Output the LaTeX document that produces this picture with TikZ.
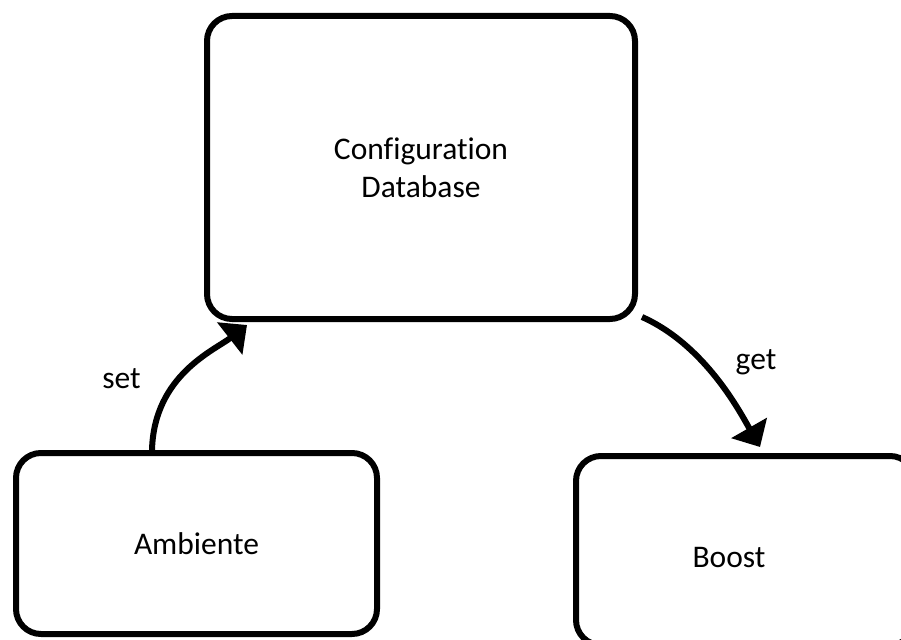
\documentclass[tikz,border=0pt]{standalone}
\usepackage{fontspec}
\setmainfont{Carlito}[Ligatures=NoCommon]
\usetikzlibrary{arrows.meta}

\tikzset{
  box/.style={draw=black, line width=6pt, rounded corners=25pt, fill=white,
              align=center, font=\fontsize{31.5}{38}\selectfont},
  lbl/.style={font=\fontsize{31.5}{38}\selectfont, anchor=base, inner sep=0pt},
  flow/.style={draw=black, line width=6pt,
               -{Triangle[length=22pt,width=40pt]}}
}

\begin{document}
\begin{tikzpicture}[x=1pt, y=-1pt]
  % page area (the Boost box runs past the right and bottom edges)
  \clip (0,0) rectangle (901,639);
  \fill[white] (0,0) rectangle (901,639);

  % boxes
  \node[box, minimum width=428pt, minimum height=303pt] (cfg) at (421,167.5)
       {Configuration\\Database};
  \node[box, minimum width=361pt, minimum height=181pt] (amb) at (196.5,543.5)
       {Ambiente};
  \node[box, minimum width=339pt, minimum height=189pt] (boost) at (745.5,550.5) {};
  \node[lbl] (boosttxt) at (729,567) {Boost};

  % connectors
  \coordinate (setA) at ([xshift=139pt]amb.north west);
  \coordinate (setB) at ([xshift=43pt,yshift=-3pt]cfg.south west);
  \draw[flow] (setA) .. controls +(2,-75) and +(-32,25) .. (setB);

  \coordinate (getA) at ([xshift=4pt,yshift=5pt]cfg.south east);
  \coordinate (getB) at ([xshift=187pt,yshift=6pt]boost.north west);
  \draw[flow] (getA) .. controls +(63,28) and +(-20,-35) .. (getB);

  % connector labels
  \node[lbl] (setlbl) at (121.5,388) {set};
  \node[lbl] (getlbl) at (756,369) {get};
\end{tikzpicture}
\end{document}
